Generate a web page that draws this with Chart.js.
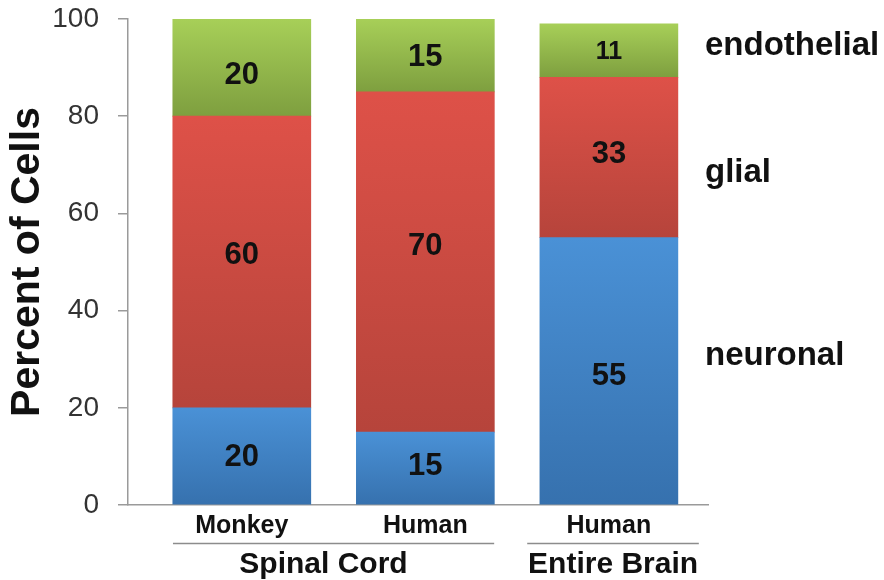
<!DOCTYPE html>
<html>
<head>
<meta charset="utf-8">
<script src="https://cdn.jsdelivr.net/npm/chart.js@4/dist/chart.umd.min.js"></script>
<style>
  html, body { margin: 0; padding: 0; background: #ffffff; }
  #wrap { width: 884px; height: 580px; }
</style>
</head>
<body>
<div id="wrap"><canvas id="c" width="884" height="580"></canvas></div>
<script>
// Cell composition per tissue sample (percent of cells)
const categories = ['Monkey', 'Human', 'Human'];
const groups = ['Spinal Cord', 'Entire Brain'];
const seriesNames = ['neuronal', 'glial', 'endothelial'];
const neuronal = [20, 15, 55];
const glial = [60, 70, 33];
const endothelial = [20, 15, 11];
const yTicks = [0, 20, 40, 60, 80, 100];

const seriesValues = [neuronal, glial, endothelial];

// Styling: vertical gradient (top, bottom) per series
const seriesGradients = [
  ['#4a91d6', '#3671ae'],
  ['#de5148', '#b6443b'],
  ['#a7cf58', '#7e9f3f']
];
// Vertical nudge (px) of each value label from its segment centre
const labelNudge = [
  [0, -3, 4],
  [-8, -17, -4],
  [7, 1, 1]
];
// Group underline spans and label centres, in x-axis units
const groupSpans = [[-0.375, 1.375], [1.555, 2.49]];
const groupCenters = [0.445, 2.023];
// Series name anchors on the y-axis, beside the last bar
const seriesNameAnchor = [28.8, 66.5, 92.6];

const FONT = '"Liberation Sans", Arial, Helvetica, sans-serif';
const AXIS_GRAY = '#9a9a9a';

function segmentGradient(ctx, d) {
  const stops = seriesGradients[d];
  if (ctx.type !== 'data') return stops[0];
  const chart = ctx.chart;
  const y = chart.scales && chart.scales.y;
  if (!y) return stops[0];
  const i = ctx.dataIndex;
  let start = 0;
  for (let k = 0; k < d; k++) start += seriesValues[k][i];
  const end = start + seriesValues[d][i];
  const yTop = y.getPixelForValue(end);
  const yBot = y.getPixelForValue(start);
  if (!isFinite(yTop) || !isFinite(yBot) || yTop === yBot) return stops[0];
  const g = chart.ctx.createLinearGradient(0, yTop, 0, yBot);
  g.addColorStop(0, stops[0]);
  g.addColorStop(1, stops[1]);
  return g;
}

const datasets = seriesValues.map((vals, d) => ({
  label: seriesNames[d],
  data: vals.map((v, i) => ({ x: i, y: v })),
  backgroundColor: (ctx) => segmentGradient(ctx, d),
  borderWidth: 0,
  barThickness: 138
}));

// Values written inside each segment, series names to the right, group captions below
const annotations = {
  id: 'annotations',
  afterDatasetsDraw(chart) {
    const ctx = chart.ctx;
    ctx.save();
    ctx.fillStyle = '#111111';
    ctx.textAlign = 'center';
    ctx.textBaseline = 'middle';
    seriesValues.forEach((vals, d) => {
      const meta = chart.getDatasetMeta(d);
      meta.data.forEach((el, i) => {
        const v = vals[i];
        const size = v < 12 ? 25 : 31;
        ctx.font = 'bold ' + size + 'px ' + FONT;
        ctx.fillText(String(v), el.x, (el.y + el.base) / 2 + 1 + labelNudge[d][i]);
      });
    });
    ctx.restore();
  },
  afterDraw(chart) {
    const ctx = chart.ctx;
    const x = chart.scales.x, y = chart.scales.y;
    ctx.save();
    // series names
    ctx.fillStyle = '#111111';
    ctx.textAlign = 'left';
    ctx.textBaseline = 'alphabetic';
    ctx.font = 'bold 33px ' + FONT;
    seriesNames.forEach((name, d) => {
      ctx.fillText(name, 705, y.getPixelForValue(seriesNameAnchor[d]));
    });
    // group underlines and captions
    ctx.strokeStyle = '#8c8c8c';
    ctx.lineWidth = 1.5;
    groupSpans.forEach((span) => {
      ctx.beginPath();
      ctx.moveTo(x.getPixelForValue(span[0]), 543.5);
      ctx.lineTo(x.getPixelForValue(span[1]), 543.5);
      ctx.stroke();
    });
    ctx.textAlign = 'center';
    ctx.font = 'bold 30px ' + FONT;
    groups.forEach((g, k) => {
      ctx.fillText(g, x.getPixelForValue(groupCenters[k]), 573);
    });
    ctx.restore();
  }
};

new Chart(document.getElementById('c'), {
  type: 'bar',
  data: { datasets },
  plugins: [annotations],
  options: {
    responsive: false,
    animation: false,
    layout: { padding: { left: 0, top: 19, right: 176, bottom: 0 } },
    plugins: {
      legend: { display: false },
      tooltip: { enabled: false }
    },
    scales: {
      x: {
        type: 'linear',
        stacked: true,
        offset: false,
        min: -0.62,
        max: 2.54,
        afterBuildTicks: (scale) => { scale.ticks = categories.map((_, i) => ({ value: i })); },
        afterFit: (scale) => { scale.height = 75; },
        grid: { drawOnChartArea: false, drawTicks: false },
        border: { display: true, color: AXIS_GRAY, width: 1.5 },
        ticks: {
          autoSkip: false,
          maxRotation: 0,
          padding: 6,
          color: '#111111',
          font: { family: FONT, size: 25, weight: 'bold' },
          callback: (v) => categories[v] ?? ''
        }
      },
      y: {
        stacked: true,
        min: 0,
        max: 100,
        afterBuildTicks: (scale) => { scale.ticks = yTicks.map((v) => ({ value: v })); },
        afterFit: (scale) => {
          scale.width = 128;
          scale.paddingTop = 0;
          scale.paddingBottom = 0;
        },
        grid: { drawOnChartArea: false, drawTicks: true, tickLength: 10, color: AXIS_GRAY, lineWidth: 1.5 },
        border: { display: true, color: AXIS_GRAY, width: 1.5 },
        ticks: {
          padding: 19,
          color: '#333333',
          font: { family: FONT, size: 28 }
        },
        title: {
          display: true,
          text: 'Percent of Cells',
          color: '#111111',
          font: { family: FONT, size: 41, weight: 'bold' },
          padding: { top: 3, bottom: 0 }
        }
      }
    }
  }
});
</script>
</body>
</html>
